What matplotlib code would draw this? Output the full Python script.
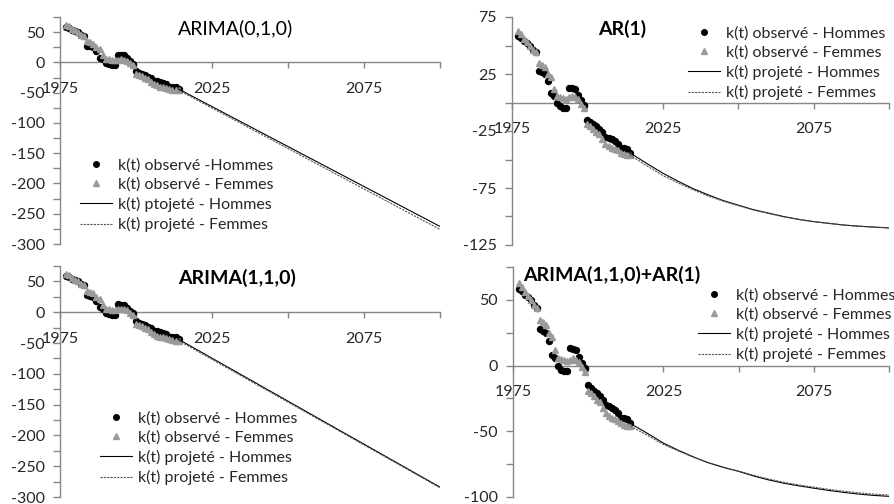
import matplotlib
matplotlib.use("Agg")
import matplotlib.pyplot as plt
from matplotlib.lines import Line2D

plt.rcParams['font.family'] = ['Lato', 'DejaVu Sans']

# Observed k(t), 1977-2014
years_obs = list(range(1977, 2015))
k_hommes = [58.5, 57, 54, 52, 50, 46, 44, 27.5, 26.5, 25, 18.5, 8, 6, -0.5, -3, -4.5,
            -4.5, 13, 12.5, 12, 6.5, 2, -2, -15, -17, -19, -21, -23.5, -26, -30, -31,
            -32, -34, -36, -40, -40, -41, -44]
k_femmes = [62.5, 60, 56, 53, 50, 46, 44, 35, 33, 31, 25, 22, 12, 6, 5, 4, 3.5, 4.5,
            5.5, 4.5, 3, -1, -5, -19, -21, -23, -26, -28, -32, -36, -38, -40, -41, -42,
            -44, -45, -46, -46]

# Projections (straight-line models)
years_lin = [2014, 2100]
arima010_h = [-44, -271]
arima010_f = [-46, -276]
arima110_h = [-44, -284]
arima110_f = [-46, -285]

# Projections (mean-reverting models)
years_curve = [2014, 2020, 2025, 2030, 2035, 2040, 2045, 2050, 2055, 2060, 2065,
               2070, 2075, 2080, 2085, 2090, 2095, 2100]
ar1_h = [-44, -54, -62, -69, -75.5, -81, -86, -90, -94, -97, -100, -102.5, -104.5,
         -106, -107.5, -108.5, -109.3, -110]
ar1_f = [-46, -56, -64, -70.5, -76.5, -82, -86.5, -90.5, -94.3, -97.3, -100.2, -102.6,
         -104.5, -106, -107.5, -108.5, -109.3, -110]
mix_h = [-44, -52, -59, -64.5, -69.5, -74, -77.5, -80.5, -84, -87, -89.5, -91.5, -93.3,
         -95, -96.5, -97.8, -98.8, -99.5]
mix_f = [-46, -53.5, -60, -65, -69.8, -74, -77.3, -80.3, -83.5, -86.3, -88.8, -90.8,
         -92.5, -94.2, -95.6, -96.8, -97.8, -98.5]

titles = ["ARIMA(0,1,0)", "AR(1)", "ARIMA(1,1,0)", "ARIMA(1,1,0)+AR(1)"]
legend_labels_tl = ["k(t) observé -Hommes", "k(t) observé - Femmes",
                    "k(t) ptojeté - Hommes", "k(t) projeté - Femmes"]
legend_labels = ["k(t) observé - Hommes", "k(t) observé - Femmes",
                 "k(t) projeté - Hommes", "k(t) projeté - Femmes"]

W, H = 895, 504
fig = plt.figure(figsize=(W / 100, H / 100), dpi=100)

AXIS_GRAY = '#868686'
TXT = '#262626'
FEM_GRAY = '#9a9a9a'
MS = 4.3


def px_axes(x0, y0, x1, y1):
    return fig.add_axes([x0 / W, 1 - y1 / H, (x1 - x0) / W, (y1 - y0) / H])


def setup(ax, ymin, ymax, ylabels):
    ax.set_xlim(1975, 2100)
    ax.set_ylim(ymin, ymax)
    for s in ['top', 'right']:
        ax.spines[s].set_visible(False)
    ax.spines['left'].set_color(AXIS_GRAY)
    ax.spines['bottom'].set_color(AXIS_GRAY)
    ax.spines['bottom'].set_position(('data', 0))
    ax.spines['left'].set_linewidth(1.0)
    ax.spines['bottom'].set_linewidth(1.0)
    xt = list(range(1975, 2101, 25))
    ax.set_xticks(xt)
    ax.set_xticklabels([str(v) if v in (1975, 2025, 2075) else '' for v in xt])
    yt = list(range(ymin, ymax + 1, 25))
    ax.set_yticks(yt)
    ax.set_yticklabels([str(v) if v in ylabels else '' for v in yt])
    ax.tick_params(axis='x', direction='out', length=4, width=1, color=AXIS_GRAY,
                   pad=10, labelsize=11.5, labelcolor=TXT)
    ax.tick_params(axis='y', direction='out', length=5, width=1, color=AXIS_GRAY,
                   pad=6, labelsize=11.5, labelcolor=TXT)
    ax.set_facecolor('none')


def draw(ax, xp, ph, pf):
    ax.plot(years_obs, k_hommes, linestyle='none', marker='o', ms=MS,
            color='black', zorder=3)
    ax.plot(years_obs, k_femmes, linestyle='none', marker='^', ms=MS,
            color=FEM_GRAY, zorder=3)
    ax.plot(xp, ph, color='black', lw=0.8, zorder=4)
    ax.plot(xp, pf, color='#555555', lw=0.8, linestyle=(0, (2, 1)), zorder=4)


def legend(ax, labels, x_px, y_px):
    handles = [
        Line2D([], [], linestyle='none', marker='o', ms=4, color='black'),
        Line2D([], [], linestyle='none', marker='^', ms=4, color=FEM_GRAY),
        Line2D([], [], color='black', lw=0.8),
        Line2D([], [], color='#555555', lw=0.8, linestyle=(0, (2, 1))),
    ]
    ax.legend(handles, labels, loc='upper left',
              bbox_to_anchor=(x_px / W, 1 - y_px / H),
              bbox_transform=fig.transFigure, frameon=False,
              borderpad=0, borderaxespad=0, handlelength=2.0,
              handletextpad=0.35, labelspacing=0.32, fontsize=11.5,
              labelcolor=TXT)


# Top left: ARIMA(0,1,0)
ax1 = px_axes(60, 17, 440, 244)
setup(ax1, -300, 75, range(-300, 51, 50))
draw(ax1, years_lin, arima010_h, arima010_f)
legend(ax1, legend_labels_tl, 80, 158)
fig.text(236 / W, 1 - 28 / H, titles[0], ha='center', va='center',
         fontsize=14, color='black')

# Top right: AR(1)
ax2 = px_axes(512, 17, 889, 245)
setup(ax2, -125, 75, (-125, -75, -25, 25, 75))
draw(ax2, years_curve, ar1_h, ar1_f)
legend(ax2, legend_labels, 688, 26)
fig.text(622 / W, 1 - 29 / H, titles[1], ha='center', va='center',
         fontsize=14, color='black', fontweight='bold')

# Bottom left: ARIMA(1,1,0)
ax3 = px_axes(60, 266, 440, 497)
setup(ax3, -300, 75, range(-300, 51, 50))
draw(ax3, years_lin, arima110_h, arima110_f)
legend(ax3, legend_labels, 100, 411)
fig.text(237 / W, 1 - 278 / H, titles[2], ha='center', va='center',
         fontsize=14, color='black', fontweight='bold')

# Bottom right: ARIMA(1,1,0)+AR(1)
ax4 = px_axes(513, 267, 889, 497)
setup(ax4, -100, 75, (-100, -50, 0, 50))
draw(ax4, years_curve, mix_h, mix_f)
legend(ax4, legend_labels, 698, 288)
fig.text(612 / W, 1 - 275 / H, titles[3], ha='center', va='center',
         fontsize=14, color='black', fontweight='bold')

fig.savefig('out.png', dpi=100)
